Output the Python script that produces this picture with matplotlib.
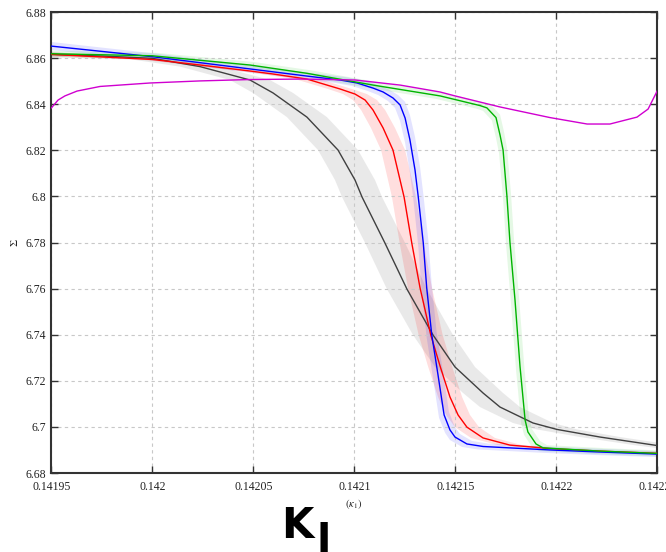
import numpy as np
import matplotlib
matplotlib.use("Agg")
from matplotlib import pyplot as plt

# tick values and labels
xticks = [0.14195, 0.14200, 0.14205, 0.14210, 0.14215, 0.14220, 0.14225]
xlabels = ['0.14195', '0.142', '0.14205', '0.1421', '0.14215', '0.1422', '0.14225']
yticks = [6.68, 6.70, 6.72, 6.74, 6.76, 6.78, 6.80, 6.82, 6.84, 6.86, 6.88]
ylabels = ['6.68', '6.7', '6.72', '6.74', '6.76', '6.78', '6.8', '6.82', '6.84', '6.86', '6.88']

# black curve + grey band
k_black = [0.1419500, 0.1419751, 0.1420000, 0.1420236, 0.1420483, 0.1420597, 0.1420765, 0.1420919,
           0.1421003, 0.1421038, 0.1421151, 0.1421260, 0.1421389, 0.1421498, 0.1421637, 0.1421721,
           0.1421884, 0.1422003, 0.1422216, 0.1422500]
s_black = [6.8616, 6.8609, 6.8599, 6.8563, 6.8505, 6.8449, 6.8344, 6.8201, 6.8071, 6.7997, 6.7798,
           6.7598, 6.7399, 6.7260, 6.7147, 6.7086, 6.7017, 6.6989, 6.6956, 6.6919]
k_grey_hi = [0.1419500, 0.1419850, 0.1420097, 0.1420335, 0.1420582, 0.1420696, 0.1420864, 0.1421018,
             0.1421102, 0.1421137, 0.1421251, 0.1421359, 0.1421488, 0.1421597, 0.1421736, 0.1421820,
             0.1421983, 0.1422102, 0.1422315, 0.1422500]
s_grey_hi = [6.8626, 6.8609, 6.8599, 6.8563, 6.8505, 6.8449, 6.8344, 6.8201, 6.8071, 6.7997, 6.7798,
             6.7598, 6.7399, 6.7260, 6.7147, 6.7086, 6.7017, 6.6989, 6.6956, 6.6932]
k_grey_lo = [0.1419500, 0.1419899, 0.1420137, 0.1420384, 0.1420498, 0.1420666, 0.1420820, 0.1420904,
             0.1420939, 0.1421053, 0.1421161, 0.1421290, 0.1421399, 0.1421538, 0.1421622, 0.1421785,
             0.1421904, 0.1422117, 0.1422399, 0.1422500]
s_grey_lo = [6.8603, 6.8594, 6.8563, 6.8505, 6.8449, 6.8344, 6.8201, 6.8071, 6.7997, 6.7798, 6.7598,
             6.7399, 6.7260, 6.7147, 6.7086, 6.7017, 6.6989, 6.6956, 6.6919, 6.6908]

# red curve + pink band
k_red = [0.1419500, 0.1420000, 0.1420236, 0.1420483, 0.1420597, 0.1420765, 0.1420929, 0.1421003,
         0.1421053, 0.1421092, 0.1421142, 0.1421191, 0.1421246, 0.1421284, 0.1421325, 0.1421378,
         0.1421424, 0.1421473, 0.1421513, 0.1421557, 0.1421637, 0.1421770, 0.1421968, 0.1422216,
         0.1422500]
s_red = [6.8616, 6.8594, 6.8570, 6.8544, 6.8531, 6.8509, 6.8466, 6.8444, 6.8418, 6.8375, 6.8297,
         6.8201, 6.7997, 6.7798, 6.7603, 6.7399, 6.7264, 6.7130, 6.7052, 6.6999, 6.6952, 6.6921,
         6.6906, 6.6895, 6.6885]
k_pink_hi = [0.1419500, 0.1420057, 0.1420295, 0.1420543, 0.1420656, 0.1420825, 0.1420988, 0.1421062,
             0.1421112, 0.1421152, 0.1421201, 0.1421251, 0.1421305, 0.1421343, 0.1421384, 0.1421437,
             0.1421483, 0.1421533, 0.1421572, 0.1421617, 0.1421696, 0.1421830, 0.1422028, 0.1422275,
             0.1422500]
s_pink_hi = [6.8626, 6.8594, 6.8570, 6.8544, 6.8531, 6.8509, 6.8466, 6.8444, 6.8418, 6.8375, 6.8297,
             6.8201, 6.7997, 6.7798, 6.7603, 6.7399, 6.7264, 6.7130, 6.7052, 6.6999, 6.6952, 6.6921,
             6.6906, 6.6895, 6.6893]
k_pink_lo = [0.1419500, 0.1419939, 0.1420176, 0.1420424, 0.1420538, 0.1420706, 0.1420869, 0.1420944,
             0.1420993, 0.1421033, 0.1421082, 0.1421132, 0.1421186, 0.1421224, 0.1421265, 0.1421318,
             0.1421364, 0.1421414, 0.1421454, 0.1421498, 0.1421577, 0.1421711, 0.1421909, 0.1422156,
             0.1422439, 0.1422500]
s_pink_lo = [6.8607, 6.8594, 6.8570, 6.8544, 6.8531, 6.8509, 6.8466, 6.8444, 6.8418, 6.8375, 6.8297,
             6.8201, 6.7997, 6.7798, 6.7603, 6.7399, 6.7264, 6.7130, 6.7052, 6.6999, 6.6952, 6.6921,
             6.6906, 6.6895, 6.6885, 6.6878]

# blue curve + light blue band
k_blue = [0.1419500, 0.1420000, 0.1420483, 0.1420765, 0.1420929, 0.1421013, 0.1421092, 0.1421142,
          0.1421191, 0.1421226, 0.1421251, 0.1421275, 0.1421300, 0.1421316, 0.1421341, 0.1421358,
          0.1421383, 0.1421414, 0.1421444, 0.1421473, 0.1421498, 0.1421557, 0.1421637, 0.1421968,
          0.1422216, 0.1422500]
s_blue = [6.8652, 6.8606, 6.8553, 6.8522, 6.8505, 6.8492, 6.8470, 6.8453, 6.8427, 6.8397, 6.8340,
          6.8245, 6.8115, 6.7999, 6.7798, 6.7603, 6.7399, 6.7225, 6.7052, 6.6987, 6.6956, 6.6926,
          6.6915, 6.6900, 6.6891, 6.6882]
k_lblue_hi = [0.1419500, 0.1420023, 0.1420508, 0.1420790, 0.1420954, 0.1421038, 0.1421117, 0.1421166,
              0.1421216, 0.1421251, 0.1421275, 0.1421300, 0.1421325, 0.1421341, 0.1421366, 0.1421383,
              0.1421407, 0.1421439, 0.1421468, 0.1421498, 0.1421523, 0.1421582, 0.1421661, 0.1421993,
              0.1422241, 0.1422500]
s_lblue_hi = [6.8670, 6.8619, 6.8566, 6.8535, 6.8518, 6.8505, 6.8483, 6.8466, 6.8440, 6.8410, 6.8353,
              6.8258, 6.8128, 6.8012, 6.7811, 6.7616, 6.7412, 6.7238, 6.7065, 6.6999, 6.6969, 6.6939,
              6.6928, 6.6913, 6.6904, 6.6895]
k_lblue_lo = [0.1419500, 0.1419973, 0.1420458, 0.1420741, 0.1420904, 0.1420988, 0.1421067, 0.1421117,
              0.1421166, 0.1421201, 0.1421226, 0.1421251, 0.1421275, 0.1421292, 0.1421316, 0.1421333,
              0.1421358, 0.1421389, 0.1421419, 0.1421449, 0.1421473, 0.1421533, 0.1421612, 0.1421944,
              0.1422191, 0.1422500]
s_lblue_lo = [6.8635, 6.8593, 6.8540, 6.8509, 6.8492, 6.8479, 6.8457, 6.8440, 6.8414, 6.8384, 6.8327,
              6.8232, 6.8102, 6.7986, 6.7785, 6.7590, 6.7386, 6.7212, 6.7039, 6.6974, 6.6943, 6.6913,
              6.6902, 6.6887, 6.6878, 6.6869]

# green curve + light green band
k_green = [0.1419500, 0.1420000, 0.1420483, 0.1420765, 0.1421092, 0.1421424, 0.1421622, 0.1421656,
           0.1421701, 0.1421721, 0.1421736, 0.1421755, 0.1421770, 0.1421795, 0.1421820, 0.1421845,
           0.1421859, 0.1421899, 0.1421934, 0.1422216, 0.1422500]
s_green = [6.8619, 6.8610, 6.8570, 6.8534, 6.8483, 6.8436, 6.8394, 6.8384, 6.8342, 6.8266, 6.8201,
           6.8002, 6.7802, 6.7551, 6.7261, 6.7030, 6.6978, 6.6926, 6.6909, 6.6895, 6.6885]
k_lgreen_hi = [0.1419500, 0.1420018, 0.1420503, 0.1420785, 0.1421112, 0.1421444, 0.1421642, 0.1421676,
               0.1421721, 0.1421741, 0.1421755, 0.1421775, 0.1421790, 0.1421815, 0.1421840, 0.1421864,
               0.1421879, 0.1421919, 0.1421954, 0.1422236, 0.1422500]
s_lgreen_hi = [6.8632, 6.8623, 6.8583, 6.8547, 6.8496, 6.8449, 6.8407, 6.8397, 6.8355, 6.8279, 6.8214,
               6.8015, 6.7815, 6.7564, 6.7274, 6.7043, 6.6991, 6.6939, 6.6921, 6.6908, 6.6898]
k_lgreen_lo = [0.1419500, 0.1419978, 0.1420463, 0.1420746, 0.1421072, 0.1421404, 0.1421602, 0.1421637,
               0.1421681, 0.1421701, 0.1421716, 0.1421736, 0.1421751, 0.1421775, 0.1421800, 0.1421825,
               0.1421840, 0.1421879, 0.1421914, 0.1422196, 0.1422500]
s_lgreen_lo = [6.8606, 6.8597, 6.8557, 6.8521, 6.8470, 6.8423, 6.8381, 6.8371, 6.8329, 6.8253, 6.8188,
               6.7989, 6.7789, 6.7538, 6.7248, 6.7017, 6.6965, 6.6913, 6.6895, 6.6882, 6.6872]

# magenta curve
k_mag = [0.1419500, 0.1419533, 0.1419567, 0.1419627, 0.1419741, 0.1419988, 0.1420236, 0.1420483,
         0.1420731, 0.1421003, 0.1421226, 0.1421424, 0.1421498, 0.1421721, 0.1421968, 0.1422152,
         0.1422265, 0.1422399, 0.1422454, 0.1422500]
s_mag = [6.8384, 6.8418, 6.8436, 6.8457, 6.8477, 6.8492, 6.8501, 6.8507, 6.8509, 6.8505, 6.8483,
         6.8453, 6.8436, 6.8388, 6.8342, 6.8314, 6.8314, 6.8344, 6.8379, 6.8459]


def band(ax, kh, sh, kl, sl, col, a):
    # polygon: upper edge left->right, lower edge back
    ax.fill(np.concatenate([kh, kl[::-1]]), np.concatenate([sh, sl[::-1]]),
            color=col, alpha=a, lw=0, zorder=1)


fig = plt.figure(figsize=(6.66, 5.52), dpi=100)
ax = fig.add_axes([51.4/666, 1-473/552, (657.4-51.4)/666, (473-12)/552])

band(ax, k_grey_hi, s_grey_hi, k_grey_lo, s_grey_lo, '#7a7a7a', 0.16)
band(ax, k_pink_hi, s_pink_hi, k_pink_lo, s_pink_lo, '#ff0000', 0.13)
band(ax, k_lblue_hi, s_lblue_hi, k_lblue_lo, s_lblue_lo, '#0000ff', 0.11)
band(ax, k_lgreen_hi, s_lgreen_hi, k_lgreen_lo, s_lgreen_lo, '#00c000', 0.10)

ax.plot(k_black, s_black, color='#404040', lw=1.0, zorder=3)
ax.plot(k_red, s_red, color='#ff0000', lw=1.0, zorder=3)
ax.plot(k_blue, s_blue, color='#0000ff', lw=1.0, zorder=3)
ax.plot(k_green, s_green, color='#00b400', lw=1.0, zorder=3)
ax.plot(k_mag, s_mag, color='#d000d0', lw=1.0, zorder=3)

ax.set_xlim(0.14195, 0.14225)
ax.set_ylim(6.68, 6.88)
ax.set_xticks(xticks)
ax.set_xticklabels(xlabels, family='Liberation Serif', fontsize=8.5)
ax.set_yticks(yticks)
ax.set_yticklabels(ylabels, family='Liberation Serif', fontsize=8.5)
ax.tick_params(direction='in', length=5, width=1, color='#333333',
               top=True, right=True, labelcolor='#222222')
ax.tick_params(axis='x', pad=6)
ax.tick_params(axis='y', pad=4)
ax.grid(True, color='#c8c8c8', lw=0.8, ls=(0, (3, 3)), zorder=0)
for sp in ax.spines.values():
    sp.set_color('#333333')
    sp.set_linewidth(1.5)

fig.text(354/666, 1-504/552, r'$(\kappa_1)$', ha='center', va='center',
         fontsize=7.5, math_fontfamily='stix', color='#222222')
fig.text(15/666, 1-243/552, r'$\Sigma$', rotation=90, ha='center', va='center',
         fontsize=8, math_fontfamily='stix', color='#222222')
fig.text(281/666, 1-538/552, 'K', family='DejaVu Sans', weight='bold',
         fontsize=30, ha='left', va='baseline')
fig.text(316/666, 1-522/552, 'l', family='DejaVu Sans', weight='bold',
         fontsize=30, ha='left', va='top')

fig.savefig('out.png', dpi=100)
